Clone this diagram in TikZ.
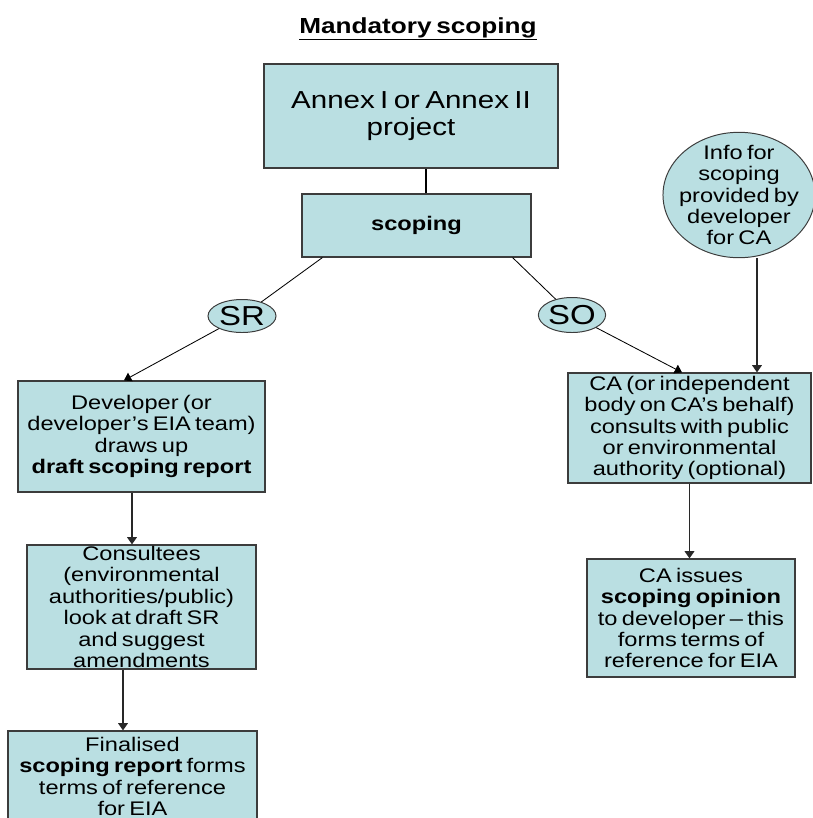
\documentclass[tikz,border=0pt]{standalone}
\usepackage{fontspec}
\setmainfont{Liberation Sans}[FakeStretch=1.2,WordSpace=0.65]
\usetikzlibrary{shapes.geometric,arrows.meta}
\definecolor{boxfill}{RGB}{186,223,226}
\definecolor{boxline}{RGB}{60,60,60}
\definecolor{flowgray}{RGB}{40,40,40}
\newcommand{\bodytext}{\fontsize{14}{15.2}\selectfont}

\tikzset{
  stage/.style={draw=boxline,fill=boxfill,line width=0.8pt,align=center,inner sep=0pt,font=\bodytext},
  oval/.style={ellipse,draw=boxline,fill=boxfill,line width=0.7pt,align=center,inner sep=0pt},
  flow/.style={-{Triangle[length=1.8mm,width=2.4mm]},line width=1pt,draw=flowgray},
  branch/.style={line width=0.6pt}
}

\begin{document}
\begin{tikzpicture}[x=0.025cm,y=-0.025cm]
\useasboundingbox (0,0) rectangle (812,818);
%\draw[step=50,lightgray,very thin] (0,0) grid (812,818);
\node[anchor=base,font=\fontsize{15.5}{17}\selectfont\bfseries] (title) at (418,33) {\underline{Mandatory scoping}};

\node[stage,minimum width=7.35cm,minimum height=2.6cm,font=\fontsize{17.5}{19.2}\selectfont] (annex) at (411,116) {Annex I or Annex II\\project};
\node[stage,minimum width=5.725cm,minimum height=1.575cm,font=\bodytext\bfseries] (scoping) at (416.5,225.5) {scoping};

\node[oval,minimum width=1.7cm,minimum height=0.825cm,font=\fontsize{19.5}{20}\selectfont] (SR) at (242,316) {SR};
\node[oval,minimum width=1.675cm,minimum height=0.875cm,font=\fontsize{19.5}{20}\selectfont] (SO) at (572,315) {SO};
\node[oval,minimum width=3.8cm,minimum height=3.1cm,inner xsep=-6pt,inner ysep=-4pt,font=\bodytext] (info) at (739,195) {Info for\\scoping\\provided by\\developer\\for CA};

% left branch
\node[stage,minimum width=6.175cm,minimum height=2.775cm] (dev) at (141.5,436.5) {Developer (or\\developer's EIA team)\\draws up\\\textbf{draft scoping report}};
\node[stage,minimum width=5.725cm,minimum height=3.1cm] (cons) at (141.5,607) {Consultees\\(environmental\\authorities/public)\\look at draft SR\\and suggest\\amendments};
\node[stage,minimum width=6.225cm,minimum height=2.275cm] (final) at (132.5,776.5) {Finalised\\\textbf{scoping report} forms\\terms of reference\\for EIA};

% right branch
\node[stage,minimum width=6.075cm,minimum height=2.75cm] (ca) at (689.5,428) {CA (or independent\\body on CA's behalf)\\consults with public\\or environmental\\authority (optional)};
\node[stage,minimum width=5.2cm,minimum height=2.95cm] (issue) at (691,618) {CA issues\\\textbf{scoping opinion}\\to developer -- this\\forms terms of\\reference for EIA};

\draw[line width=1.3pt] ([xshift=0.2375cm]scoping.north) -- ([xshift=0.2375cm]scoping.north |- annex.south);
\draw[branch] ([xshift=0.525cm]scoping.south west) -- (SR);
\draw[branch] ([xshift=-0.475cm]scoping.south east) -- (SO);
\draw[flow,line width=0.6pt,draw=black] (SR) -- ([xshift=-0.4375cm]dev.north);
\draw[flow,line width=0.6pt,draw=black] (SO) -- ([xshift=-0.1875cm]ca.north);
\draw[flow] ([xshift=-0.2375cm]dev.south) -- ([xshift=-0.2375cm]dev.south |- cons.north);
\draw[flow] ([xshift=-0.4625cm]cons.south) -- ([xshift=-0.4625cm]cons.south |- final.north);
\draw[flow] ([xshift=0.45cm]info.south) -- ([xshift=0.45cm]info.south |- ca.north);
\draw[flow] (ca.south) -- (ca.south |- issue.north);
\end{tikzpicture}
\end{document}
